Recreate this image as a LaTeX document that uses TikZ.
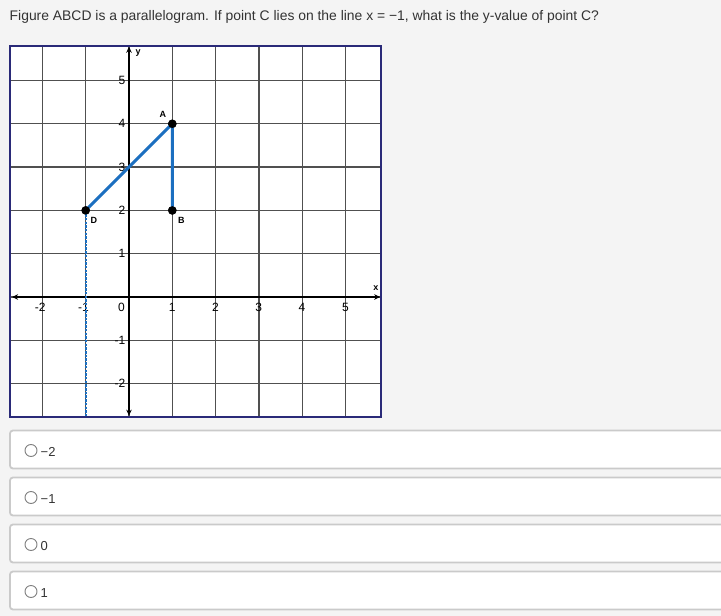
\documentclass[tikz,border=0pt]{standalone}
\usepackage{fontspec}
\setmainfont{Liberation Sans}
\usetikzlibrary{arrows.meta}
\definecolor{bg}{HTML}{F4F4F4}
\definecolor{framec}{HTML}{2A2A78}
\definecolor{gridc}{HTML}{505050}
\definecolor{lineblue}{HTML}{1C6FC0}
\definecolor{boxborder}{HTML}{CACACA}
\definecolor{txt}{HTML}{333333}
\definecolor{radioc}{HTML}{808080}
\tikzset{
  gridline/.style={draw=gridc, line width=1.3pt},
  axisline/.style={draw=black, line width=2pt, arrows={Stealth[length=6pt,width=5.5pt]-Stealth[length=6pt,width=5.5pt]}},
  segline/.style={draw=lineblue, line width=3pt},
  dashline/.style={draw=lineblue, line width=2.4pt, dash pattern=on 2.5pt off 1.2pt},
  ptdot/.style={circle, fill=black, inner sep=0pt, minimum size=8.5pt},
  ticklbl/.style={font=\fontsize{12}{14}\selectfont, inner sep=0pt, text=black},
  ptlbl/.style={font=\bfseries\fontsize{9}{11}\selectfont, inner sep=0pt, text=black},
  ansbox/.style={draw=boxborder, fill=white, line width=1.8pt, rounded corners=3pt},
  radio/.style={circle, draw=radioc, fill=white, line width=0.9pt, inner sep=0pt, minimum size=12pt},
  anstext/.style={font=\fontsize{13}{15}\selectfont, text=txt, inner sep=0pt, anchor=base west}
}
\begin{document}
\begin{tikzpicture}[x=1pt,y=-1pt]
\useasboundingbox (0,0) rectangle (721,616);
\fill[bg] (0,0) rectangle (721,616);
\node[anchor=base west, font=\fontsize{13.9}{16}\selectfont, text=txt, inner sep=0pt] (title) at (9.5,20) {Figure ABCD is a parallelogram. If point C lies on the line x = −1, what is the y-value of point C?};

\begin{scope}[shift={(129pt,-297pt)}, x=43.3pt, y=43.3pt]
  \fill[white] (-2.748,-2.77) rectangle (5.82,5.797);
  \foreach \x in {-2,...,5} \draw[gridline] (\x,-2.77) -- (\x,5.797);
  \foreach \y in {-2,...,5} \draw[gridline] (-2.748,\y) -- (5.82,\y);
  \draw[axisline] (-2.7,0) -- (5.8,0);
  \draw[axisline] (0,-2.74) -- (0,5.78);
  \draw[framec, line width=2.4pt] (-2.748,-2.77) rectangle (5.82,5.797);
  % tick labels
  \foreach \x in {-2,-1,1,2,3,4,5}
    \node[ticklbl, anchor=east, xshift=3.4pt, yshift=-10pt] (xl\x) at (\x,0) {\x};
  \node[ticklbl] (xl0) at (-0.173,-0.23) {0};
  \foreach \y in {-2,-1,1,2,3,4,5}
    \node[ticklbl, anchor=east, xshift=-3.5pt] (yl\y) at (0,\y) {\y};
  \node[ptlbl] (xlab) at (5.7,0.2) {x};
  \node[ptlbl] (ylab) at (0.21,5.64) {y};
  % points
  \node[ptdot] (A) at (1,4) {};
  \node[ptdot] (B) at (1,2) {};
  \node[ptdot] (D) at (-1,2) {};
  \coordinate (Dend) at (-1,-2.76);
  \draw[dashline] (D.center) -- (Dend);
  \draw[segline] (D.center) -- (A.center) -- (B.center);
  \node[ptdot] at (A.center) {};
  \node[ptdot] at (B.center) {};
  \node[ptdot] at (D.center) {};
  \node[ptlbl] (Alab) at (0.78,4.21) {A};
  \node[ptlbl] (Blab) at (1.21,1.76) {B};
  \node[ptlbl] (Dlab) at (-0.81,1.76) {D};
\end{scope}

\foreach \i/\t in {0/−2,1/−1,2/0,3/1}{
  \draw[ansbox] (10,430.5+47*\i) rectangle (745,468.5+47*\i);
  \node[radio] (r\i) at (31,450.5+47*\i) {};
  \node[anstext] (a\i) at (40.5,456.6+47*\i) {\t};
}
\end{tikzpicture}
\end{document}
